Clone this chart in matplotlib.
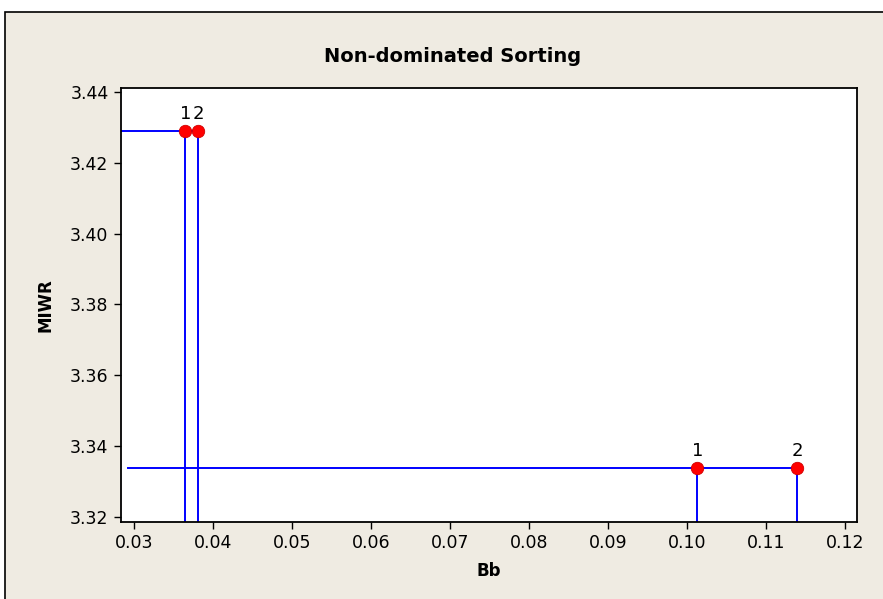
import matplotlib
matplotlib.use("Agg")
import matplotlib.pyplot as plt
from matplotlib.patches import Rectangle

# data
bb = [0.1013, 0.1139, 0.0365, 0.0381]
miwr = [3.3338, 3.3338, 3.4290, 3.4290]
labels = ["1", "2", "1", "2"]
fronts = [[0, 1], [2, 3]]
front_start = [0.0292, 0.02835]

bg = "#EFEBE2"
plt.rcParams["font.family"] = "DejaVu Sans"

fig = plt.figure(figsize=(8.83, 5.99), dpi=100, facecolor="white")
fig.patches.append(Rectangle((5 / 883, -0.1), 1.2, 1.1 - 12 / 599, transform=fig.transFigure,
                             facecolor=bg, edgecolor="black", linewidth=1.2, zorder=-10))

ax = fig.add_axes([121 / 883, 1 - 522 / 599, 736 / 883, 434 / 599])
ax.set_zorder(5)
ax.set_facecolor("white")
ax.set_xlim(0.02835, 0.1215)
ax.set_ylim(3.3186, 3.4411)
ymin = ax.get_ylim()[0]

for k, idx in enumerate(fronts):
    xs = [bb[i] for i in idx]
    y = miwr[idx[0]]
    ax.plot([front_start[k], max(xs) + 0.0006], [y, y], color="#0000FF", lw=1.4, zorder=2)
    for i in idx:
        ax.plot([bb[i], bb[i]], [ymin, miwr[i]], color="#0000FF", lw=1.4, zorder=2)

ax.scatter(bb, miwr, s=80, color="#FF0000", edgecolor="#D00000", linewidth=0.6, zorder=3)
for x, y, t in zip(bb, miwr, labels):
    ax.annotate(t, (x, y), xytext=(0, 6), textcoords="offset points",
                ha="center", va="bottom", fontsize=13)

ax.set_xticks([0.03, 0.04, 0.05, 0.06, 0.07, 0.08, 0.09, 0.10, 0.11, 0.12])
ax.set_xticklabels(["0.03", "0.04", "0.05", "0.06", "0.07", "0.08", "0.09", "0.10", "0.11", "0.12"])
ax.set_yticks([3.32, 3.34, 3.36, 3.38, 3.40, 3.42, 3.44])
ax.set_yticklabels(["3.32", "3.34", "3.36", "3.38", "3.40", "3.42", "3.44"])
ax.tick_params(direction="out", length=5, width=1, labelsize=12.5, pad=4)
for s in ax.spines.values():
    s.set_linewidth(1.3)

ax.set_xlabel("Bb", fontsize=12, fontweight="bold", labelpad=7)
ax.set_ylabel("MIWR", fontsize=12, fontweight="bold", labelpad=11)
fig.text(453 / 883, 1 - 57 / 599, "Non-dominated Sorting", ha="center", va="center",
         fontsize=14, fontweight="bold")

fig.savefig("out.png", dpi=100, facecolor=fig.get_facecolor())
